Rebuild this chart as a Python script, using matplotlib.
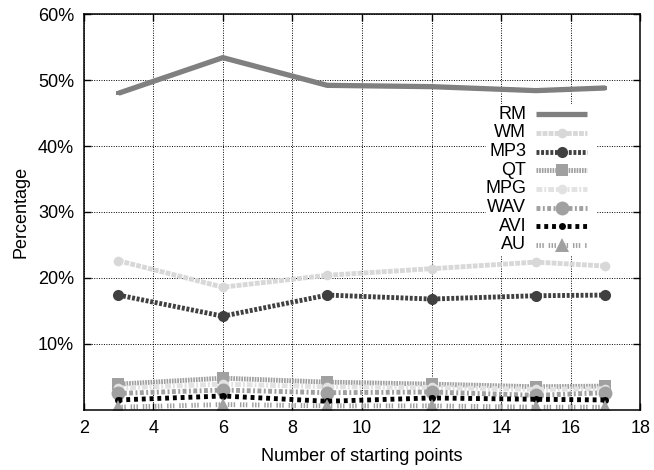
import matplotlib
matplotlib.use('Agg')
import matplotlib.pyplot as plt
from matplotlib.lines import Line2D
from matplotlib.patches import Rectangle

plt.rcParams['font.family'] = ['Liberation Sans', 'DejaVu Sans']

# Datos (porcentajes)
x_points = [3, 6, 9, 12, 15, 17]
rm = [48.0, 53.4, 49.2, 49.0, 48.4, 48.8]
wm = [22.6, 18.6, 20.4, 21.4, 22.4, 21.8]
mp3 = [17.4, 14.2, 17.4, 16.8, 17.3, 17.4]
qt = [3.9, 4.8, 4.2, 3.9, 3.5, 3.6]
mpg = [3.3, 3.9, 3.5, 3.4, 3.1, 3.2]
wav = [2.5, 3.0, 2.6, 2.7, 2.2, 2.6]
avi = [1.5, 2.1, 1.3, 1.8, 1.6, 1.5]
au = [0.4, 0.8, 0.6, 0.6, 0.4, 0.4]

names = ['RM', 'WM', 'MP3', 'QT', 'MPG', 'WAV', 'AVI', 'AU']
series = [rm, wm, mp3, qt, mpg, wav, avi, au]

# estilo de cada serie: color, dashes, marker, markersize, lw
styles = [
    ('#808080', None, 's', 3, 3.8),
    ('#d8d8d8', (1.0, 0.25), 'o', 7, 3.5),
    ('#404040', (0.6, 0.35), 'o', 8, 3.5),
    ('#a0a0a0', (0.35, 0.2), 's', 9, 3.5),
    ('#e2e2e2', (1.2, 0.4, 0.4, 0.4), 'o', 7, 3.5),
    ('#a0a0a0', (0.8, 0.5, 0.4, 0.5), 'o', 10, 3.5),
    ('#000000', (0.8, 0.8), 'o', 5, 3.5),
    ('#a0a0a0', (0.3, 0.3, 0.3, 0.3, 0.3, 1.0), '^', 10, 3.5),
]

fs = 13

fig = plt.figure(figsize=(6.54, 4.70), dpi=100)
ax = fig.add_axes([0.128, 0.128, 0.851, 0.842])

for name, vals, st in zip(names, series, styles):
    color, dashes, marker, ms, lw = st
    line, = ax.plot(x_points, vals, color=color, lw=lw, marker=marker,
                    markersize=ms, markeredgewidth=0, label=name,
                    solid_capstyle='butt', dash_capstyle='butt')
    if dashes is not None:
        line.set_dashes(dashes)

ax.set_xlim(2, 18)
ax.set_ylim(0, 60)
ax.set_xticks(range(2, 19, 2))
ax.set_yticks([10, 20, 30, 40, 50, 60])
ax.set_yticklabels(['%d%%' % v for v in [10, 20, 30, 40, 50, 60]])
ax.tick_params(labelsize=fs, direction='in', length=5, width=1, pad=7)
ax.tick_params(top=True, right=True)
ax.grid(True, color='black', linestyle=(0, (1, 1.5)), linewidth=0.7)
ax.set_xlabel('Number of starting points', fontsize=fs, labelpad=8)
ax.set_ylabel('Percentage', fontsize=fs, labelpad=6)
for sp in ax.spines.values():
    sp.set_linewidth(1.1)

# Leyenda estilo gnuplot: caja blanca sin borde, texto alineado a la derecha
ax.add_patch(Rectangle((0.722, 0.389), 0.201, 0.384, transform=ax.transAxes,
                       facecolor='white', edgecolor='none', zorder=3))
y0 = 0.747
dy = 0.0472
for i, (name, st) in enumerate(zip(names, styles)):
    color, dashes, marker, ms, lw = st
    yy = y0 - i * dy
    ax.text(0.795, yy, name, transform=ax.transAxes, ha='right', va='center',
            fontsize=fs, zorder=4)
    ln = Line2D([0.813, 0.905], [yy, yy], transform=ax.transAxes, color=color,
                lw=lw, zorder=4, solid_capstyle='butt', dash_capstyle='butt')
    if dashes is not None:
        ln.set_dashes(dashes)
    ax.add_line(ln)
    ax.add_line(Line2D([0.86], [yy], transform=ax.transAxes, color=color,
                       marker=marker, markersize=ms, markeredgewidth=0,
                       linestyle='none', zorder=5))

fig.savefig('out.png', dpi=100)
